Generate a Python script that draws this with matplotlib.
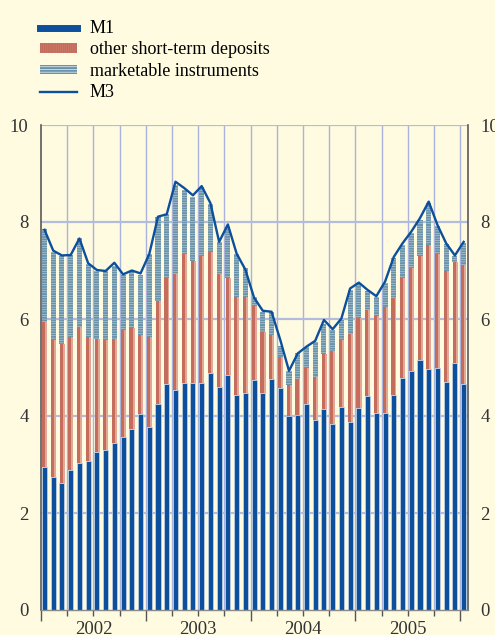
import numpy as np
import matplotlib.pyplot as plt
from matplotlib.lines import Line2D
from matplotlib.patches import Patch

# contributions to annual M3 growth, monthly Jan 2002 - Jan 2006
m1 = [2.95, 2.74, 2.62, 2.89, 3.03, 3.07, 3.26, 3.30, 3.44, 3.56, 3.73, 4.04,
      3.77, 4.24, 4.67, 4.54, 4.69, 4.69, 4.69, 4.89, 4.60, 4.84, 4.43, 4.48,
      4.75, 4.48, 4.77, 4.58, 3.99, 4.03, 4.25, 3.92, 4.14, 3.84, 4.18, 3.88,
      4.17, 4.42, 4.07, 4.07, 4.43, 4.78, 4.93, 5.15, 4.97, 5.00, 4.71, 5.10,
      4.67]
other = [2.99, 2.83, 2.86, 2.73, 2.80, 2.55, 2.33, 2.27, 2.14, 2.21, 2.09, 1.64,
         1.85, 2.14, 2.17, 2.38, 2.65, 2.51, 2.60, 2.50, 2.33, 2.01, 2.03, 1.98,
         1.52, 1.26, 0.90, 0.64, 0.65, 0.73, 0.73, 0.88, 1.14, 1.49, 1.39, 1.82,
         1.86, 1.77, 1.99, 2.18, 2.00, 2.06, 2.12, 2.14, 2.56, 2.34, 2.29, 2.08,
         2.44]
marketable = [1.91, 1.82, 1.82, 1.70, 1.83, 1.51, 1.41, 1.41, 1.52, 1.13, 1.16, 1.22,
              1.72, 1.73, 1.32, 1.85, 1.32, 1.31, 1.44, 0.98, 0.65, 1.05, 0.89, 0.59,
              0.19, 0.41, 0.48, 0.23, 0.29, 0.53, 0.45, 0.73, 0.62, 0.44, 0.41, 0.90,
              0.69, 0.39, 0.39, 0.50, 0.82, 0.69, 0.73, 0.76, 0.87, 0.58, 0.54, 0.11,
              0.46]
m3 = [7.84, 7.41, 7.31, 7.32, 7.66, 7.15, 7.01, 6.99, 7.16, 6.92, 7.00, 6.94,
      7.34, 8.11, 8.16, 8.83, 8.70, 8.55, 8.74, 8.39, 7.59, 7.95, 7.35, 7.02,
      6.44, 6.17, 6.15, 5.57, 4.93, 5.29, 5.43, 5.55, 5.98, 5.79, 6.01, 6.63,
      6.75, 6.60, 6.47, 6.77, 7.28, 7.56, 7.80, 8.08, 8.42, 7.94, 7.56, 7.31,
      7.59]
years = ["2002", "2003", "2004", "2005"]

bg = "#fefbe0"
blue = "#0b4f9d"
red_dark = "#c46d5d"
red_light = "#e2a796"
teal = "#6a93aa"
teal_light = "#d3e3e8"
grid_col = "#a9b3dc"

plt.rcParams["font.family"] = ["Liberation Serif", "DejaVu Serif"]
plt.rcParams["hatch.linewidth"] = 1.4

fig = plt.figure(figsize=(4.95, 6.35), dpi=100, facecolor=bg)
ax = fig.add_axes([41/495, 25/635, 427/495, 485/635], facecolor=bg)

x = np.arange(len(m1)) + 0.4
m1 = np.array(m1)
other = np.array(other)
marketable = np.array(marketable)
w = 0.58

# gridlines behind the bars
for q in range(1, 17):
    ax.axvline(3 * q, color=grid_col, lw=1.0, zorder=0)
for v in [2, 4, 6, 8, 10]:
    ax.axhline(v, color="#b3bcdc", lw=1.6, zorder=0)

ax.bar(x, m1, width=w, color=blue, edgecolor="#c8d6ea", linewidth=0.5, zorder=2)
ax.bar(x - 0.09, other, width=w * 0.62, bottom=m1, color=red_dark, linewidth=0, zorder=2)
ax.bar(x + w * 0.31 - 0.09 + w * 0.19, other, width=w * 0.38, bottom=m1,
       color=red_light, linewidth=0, zorder=2)
ax.bar(x, marketable, width=w, bottom=m1 + other, facecolor=teal_light,
       edgecolor=teal, hatch="-------", linewidth=0, zorder=2)
ax.plot(x, m3, color=blue, lw=1.7, zorder=3)

ax.set_xlim(0, 48.9)
ax.set_ylim(0, 10)

ax.spines["top"].set_visible(False)
for s in ["left", "right"]:
    ax.spines[s].set_color("#5a5a5a")
    ax.spines[s].set_linewidth(1.2)
ax.spines["bottom"].set_color("#8a8a8a")
ax.spines["bottom"].set_linewidth(1.0)

ax.set_yticks([0, 2, 4, 6, 8, 10])
ax.tick_params(axis="y", length=0, labelsize=13.5, colors="#333333",
               left=True, right=True, labelleft=True, labelright=True)
ax.tick_params(axis="y", which="major", pad=9)
ax.set_xticks([0, 12, 24, 36, 48])
ax.set_xticks([3 * q for q in range(17) if q % 4], minor=True)
ax.tick_params(axis="x", which="major", length=8, width=1.0, color="#555555",
               labelbottom=False)
ax.tick_params(axis="x", which="minor", length=4, width=1.0, color="#555555")

for i, yr in enumerate(years):
    ax.text(6 + 12 * i, -0.022, yr, transform=ax.get_xaxis_transform(),
            ha="center", va="top", fontsize=13.5, color="#333333")

handles = [
    Line2D([0], [0], color=blue, lw=5),
    Patch(facecolor=red_light, edgecolor=red_dark, hatch="||||||||", linewidth=0),
    Patch(facecolor=teal_light, edgecolor=teal, hatch="------", linewidth=0),
    Line2D([0], [0], color=blue, lw=1.7),
]
labels = ["M1", "other short-term deposits", "marketable instruments", "M3"]
fig.legend(handles, labels, loc="upper left", bbox_to_anchor=(0.0735, 0.974),
           frameon=False, fontsize=13, handlelength=2.05, handleheight=0.4,
           handletextpad=0.72, labelspacing=0.24, borderaxespad=0, borderpad=0.2)

fig.savefig("out.png", dpi=100, facecolor=bg)
